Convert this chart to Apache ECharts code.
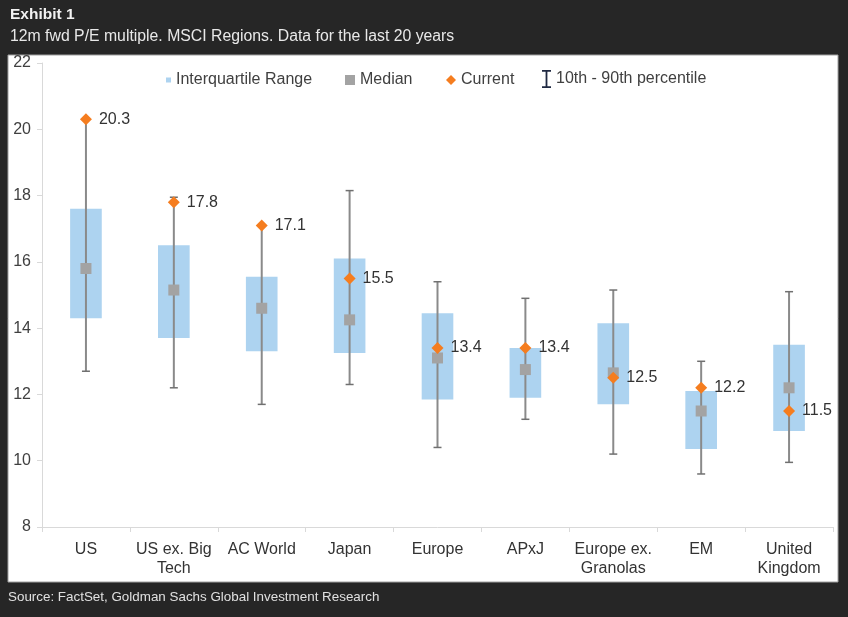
<!DOCTYPE html>
<html>
<head>
<meta charset="utf-8">
<script src="https://cdn.jsdelivr.net/npm/echarts@6/dist/echarts.min.js"></script>
<style>
html,body{margin:0;padding:0;background:#262626;}
#chart{width:848px;height:617px;}
</style>
</head>
<body>
<div id="chart"></div>
<script>
var categories = ['US', 'US ex. Big\nTech', 'AC World', 'Japan', 'Europe', 'APxJ', 'Europe ex.\nGranolas', 'EM', 'United\nKingdom'];
var p10 = [12.7, 12.2, 11.7, 12.3, 10.4, 11.25, 10.2, 9.6, 9.95];
var p90 = [20.3, 17.95, 17.1, 18.15, 15.4, 14.9, 15.15, 13.0, 15.1];
var q1 = [14.3, 13.7, 13.3, 13.25, 11.85, 11.9, 11.7, 10.35, 10.9];
var q3 = [17.6, 16.5, 15.55, 16.1, 14.45, 13.4, 14.15, 12.1, 13.5];
var median = [15.8, 15.15, 14.6, 14.25, 13.1, 12.75, 12.65, 11.5, 12.2];
var current = [20.3, 17.8, 17.1, 15.5, 13.4, 13.4, 12.5, 12.2, 11.5];
var yTicks = [8, 10, 12, 14, 16, 18, 20, 22];

var FONT = 'Liberation Sans, Arial, sans-serif';
var BOX_COLOR = '#add3f0';
var MED_COLOR = '#a3a3a3';
var CUR_COLOR = '#f57d1f';
var WHISK_COLOR = '#8a8a8a';
var IBEAM = 'path://M0,0 L10,0 L10,2 L6,2 L6,18 L10,18 L10,20 L0,20 L0,18 L4,18 L4,2 L0,2 Z';

var boxData = categories.map(function (c, i) { return [i, q1[i], q3[i]]; });
var whiskData = categories.map(function (c, i) { return [i, p10[i], p90[i]]; });
var medData = categories.map(function (c, i) { return [i, median[i]]; });
var curData = categories.map(function (c, i) { return [i, current[i]]; });

var chart = echarts.init(document.getElementById('chart'));
var legendText = { fontFamily: FONT, fontSize: 16, color: '#404040' };

chart.setOption({
  backgroundColor: '#262626',
  animation: false,
  graphic: [
    { type: 'rect', z: 0, shape: { x: 8, y: 55, width: 830, height: 527 },
      style: { fill: '#ffffff', stroke: '#a0a0a0', lineWidth: 1 } },
    { type: 'text', z: 1, left: 10, top: 7,
      style: { text: 'Exhibit 1', fill: '#f2f2f2', font: 'bold 15.5px ' + FONT } },
    { type: 'text', z: 1, left: 10, top: 29,
      style: { text: '12m fwd P/E multiple. MSCI Regions. Data for the last 20 years', fill: '#e8e8e8', font: '15.8px ' + FONT } },
    { type: 'text', z: 1, left: 8, top: 591,
      style: { text: 'Source: FactSet, Goldman Sachs Global Investment Research', fill: '#e0e0e0', font: '13.4px ' + FONT } }
  ],
  legend: [
    { data: [{ name: 'Interquartile Range', icon: 'rect', itemStyle: { color: BOX_COLOR } }],
      left: 166, top: 72, itemWidth: 5, itemHeight: 5, itemGap: 0, itemTextGap: 4, padding: 0,
      textStyle: legendText, selectedMode: false },
    { data: [{ name: 'Median', icon: 'rect', itemStyle: { color: MED_COLOR } }],
      left: 345, top: 72, itemWidth: 10, itemHeight: 10, itemGap: 0, itemTextGap: 4, padding: 0,
      textStyle: legendText, selectedMode: false },
    { data: [{ name: 'Current', icon: 'diamond', itemStyle: { color: CUR_COLOR } }],
      left: 446, top: 72, itemWidth: 10, itemHeight: 10, itemGap: 0, itemTextGap: 3, padding: 0,
      textStyle: legendText, selectedMode: false },
    { data: [{ name: '10th - 90th percentile', icon: IBEAM, itemStyle: { color: '#1f2942' } }],
      left: 542, top: 70, itemWidth: 9, itemHeight: 18, itemGap: 0, itemTextGap: 6, padding: 0,
      textStyle: legendText, selectedMode: false }
  ],
  grid: { left: 42, right: 15, top: 63, bottom: 90, containLabel: false },
  xAxis: {
    type: 'category',
    data: categories,
    boundaryGap: true,
    axisLine: { show: true, lineStyle: { color: '#d9d9d9', width: 1 } },
    axisTick: { show: true, length: 5, lineStyle: { color: '#d9d9d9' } },
    axisLabel: { interval: 0, margin: 13, fontFamily: FONT, fontSize: 16, color: '#333333', lineHeight: 19 },
    splitLine: { show: false }
  },
  yAxis: {
    type: 'value',
    min: 8, max: 22, interval: 2,
    axisLine: { show: true, lineStyle: { color: '#d9d9d9', width: 1 } },
    axisTick: { show: true, length: 5, lineStyle: { color: '#d9d9d9' } },
    axisLabel: { margin: 11, fontFamily: FONT, fontSize: 16, color: '#404040', padding: [3, 0, 0, 0],
      formatter: function (v) { return yTicks.indexOf(v) >= 0 ? String(v) : ''; } },
    splitLine: { show: false }
  },
  series: [
    {
      name: 'Interquartile Range',
      type: 'custom',
      z: 2,
      itemStyle: { color: BOX_COLOR },
      encode: { x: 0, y: [1, 2] },
      data: boxData,
      renderItem: function (params, api) {
        var x = api.value(0);
        var lo = api.coord([x, api.value(1)]);
        var hi = api.coord([x, api.value(2)]);
        var w = api.size([1, 0])[0] * 0.36;
        return {
          type: 'rect',
          shape: { x: lo[0] - w / 2, y: hi[1], width: w, height: lo[1] - hi[1] },
          style: { fill: BOX_COLOR }
        };
      }
    },
    {
      name: '10th - 90th percentile',
      type: 'custom',
      z: 3,
      itemStyle: { color: '#1f2942' },
      encode: { x: 0, y: [1, 2] },
      data: whiskData,
      renderItem: function (params, api) {
        var x = api.value(0);
        var lo = api.coord([x, api.value(1)]);
        var hi = api.coord([x, api.value(2)]);
        var cw = 4;
        return {
          type: 'group',
          children: [
            { type: 'line', shape: { x1: lo[0], y1: lo[1], x2: hi[0], y2: hi[1] },
              style: { stroke: WHISK_COLOR, lineWidth: 2 } },
            { type: 'line', shape: { x1: lo[0] - cw, y1: lo[1], x2: lo[0] + cw, y2: lo[1] },
              style: { stroke: '#707070', lineWidth: 1.5 } },
            { type: 'line', shape: { x1: hi[0] - cw, y1: hi[1], x2: hi[0] + cw, y2: hi[1] },
              style: { stroke: '#707070', lineWidth: 1.5 } }
          ]
        };
      }
    },
    {
      name: 'Median',
      type: 'scatter',
      z: 4,
      symbol: 'rect',
      symbolSize: 11,
      itemStyle: { color: MED_COLOR, opacity: 1 },
      data: medData
    },
    {
      name: 'Current',
      type: 'scatter',
      z: 5,
      symbol: 'diamond',
      symbolSize: 12,
      itemStyle: { color: CUR_COLOR, opacity: 1 },
      label: {
        show: true, position: 'right', distance: 7,
        fontFamily: FONT, fontSize: 16, color: '#333333',
        formatter: function (p) { return p.value[1].toFixed(1); }
      },
      data: curData
    }
  ]
});
</script>
</body>
</html>
